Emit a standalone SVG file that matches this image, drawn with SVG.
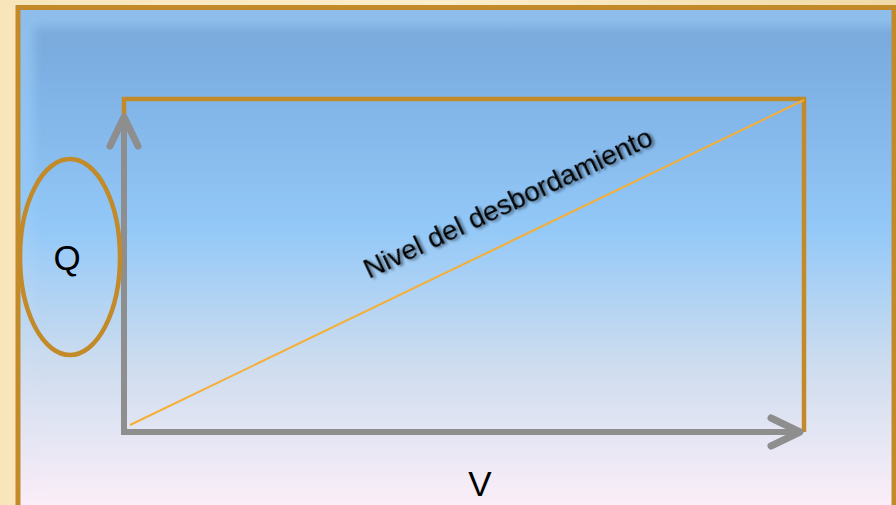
<svg xmlns="http://www.w3.org/2000/svg" width="896" height="505" viewBox="0 0 896 505">
  <defs>
    <linearGradient id="cream" x1="0" y1="0" x2="1" y2="0">
      <stop offset="0" stop-color="#F8E6BA"/>
      <stop offset="0.5" stop-color="#FCEECB"/>
      <stop offset="1" stop-color="#F1DAA6"/>
    </linearGradient>
    <linearGradient id="bgBase" x1="0" y1="0" x2="0" y2="1">
      <stop offset="0" stop-color="#8EBDEB"/>
      <stop offset="0.4" stop-color="#93C9F7"/>
      <stop offset="0.7" stop-color="#CCDCEF"/>
      <stop offset="1" stop-color="#FBEEF8"/>
    </linearGradient>
    <linearGradient id="bgInner" gradientUnits="userSpaceOnUse" x1="0" y1="25" x2="0" y2="505">
      <stop offset="0" stop-color="#79A9DC"/>
      <stop offset="0.15" stop-color="#80B3E6"/>
      <stop offset="0.42" stop-color="#92C8F8"/>
      <stop offset="0.7" stop-color="#CCDCEF"/>
      <stop offset="1" stop-color="#FBEEF8"/>
    </linearGradient>
    <filter id="blur" x="-5%" y="-5%" width="110%" height="110%">
      <feGaussianBlur stdDeviation="5"/>
    </filter>
    <filter id="shadow" x="-10%" y="-30%" width="120%" height="160%">
      <feDropShadow dx="2" dy="2" stdDeviation="1.5" flood-color="#000" flood-opacity="0.55"/>
    </filter>
    <marker id="chev" markerUnits="userSpaceOnUse" markerWidth="1" markerHeight="1" refX="0" refY="0" orient="auto" overflow="visible">
      <path d="M-29,-14 L0,0 L-29,14" fill="none" stroke="#8E8E8E" stroke-width="7" stroke-linecap="round" stroke-linejoin="round"/>
    </marker>
    <style>
      .frame { fill: none; stroke: #C38A2A; }
      .axis { fill: none; stroke: #8E8E8E; stroke-width: 6; }
      .lbl { font-family: "Liberation Sans", Arial, sans-serif; fill: #000; }
    </style>
  </defs>

  <!-- background -->
  <rect x="0" y="0" width="896" height="505" fill="url(#cream)"/>
  <rect x="18" y="7.5" width="876" height="500" fill="url(#bgBase)"/>
  <rect x="34" y="27" width="880" height="500" fill="url(#bgInner)" filter="url(#blur)"/>
  <rect x="18" y="7.5" width="876" height="500" class="frame" stroke-width="5"/>

  <!-- inner rectangle -->
  <g id="box">
    <path d="M124,118 L124,99 L804,99 L804,432" class="frame" stroke-width="4.5"/>
  </g>

  <!-- diagonal -->
  <g id="diagonal">
    <line x1="130" y1="425" x2="804" y2="100" stroke="#F6AE34" stroke-width="2"/>
    <text class="lbl" font-size="28" filter="url(#shadow)" transform="translate(369,279) rotate(-25.3)">Nivel del desbordamiento</text>
  </g>

  <!-- axes -->
  <g id="connectors">
    <path d="M124,432 L124,117" class="axis" marker-end="url(#chev)"/>
    <path d="M121,432 L800,432" class="axis" marker-end="url(#chev)"/>
  </g>

  <!-- Q ellipse -->
  <g id="q">
    <ellipse cx="70" cy="257" rx="50" ry="98" class="frame" stroke-width="4.5"/>
    <text class="lbl" x="67" y="270" font-size="35" text-anchor="middle">Q</text>
  </g>

  <g id="v">
    <text class="lbl" x="480" y="496" font-size="35" text-anchor="middle">V</text>
  </g>
</svg>
